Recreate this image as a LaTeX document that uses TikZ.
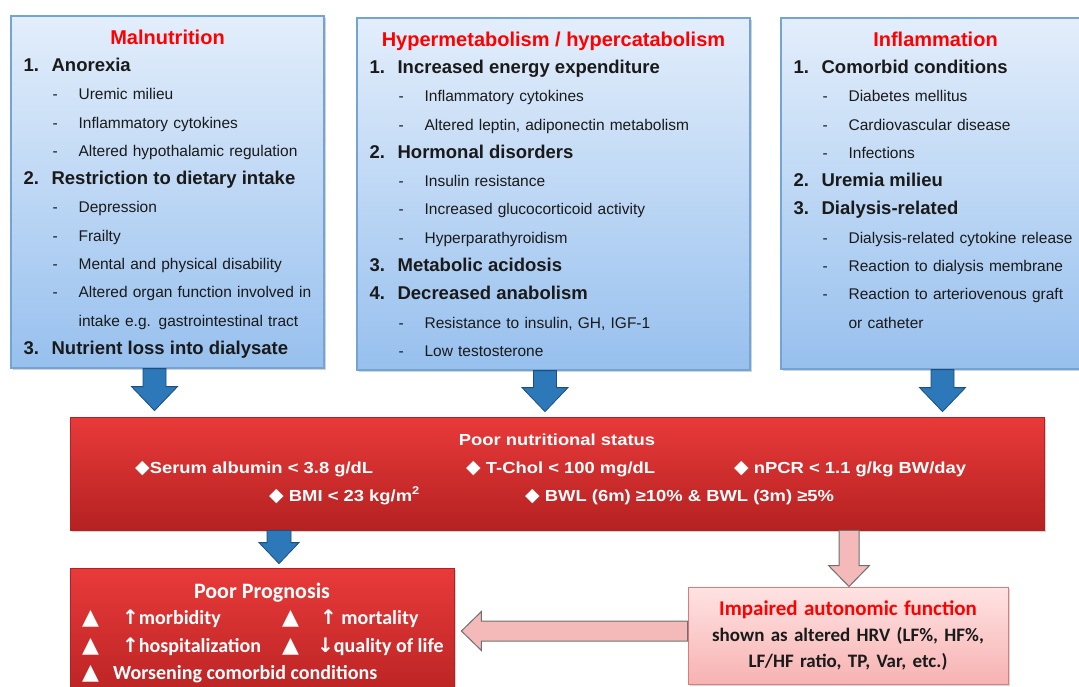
\documentclass[tikz,border=0pt]{standalone}
\usepackage{fontspec}
\setmainfont{Liberation Sans}
\newfontfamily\calfont{Carlito}
\newfontfamily\symfont{DejaVu Sans}
\newfontfamily\widefont{Liberation Sans}[FakeStretch=1.15]
\usepackage{tikz}
\usetikzlibrary{calc,shadows}
\tikzset{cause/.style={draw=boxline,line width=1.2pt,top color=boxtop,bottom color=boxbot,
  drop shadow={shadow xshift=1.5pt,shadow yshift=-1.5pt,opacity=.35}},
hdtext/.style={anchor=base,inner sep=0,text=headred,font=\fontsize{20}{28.3}\selectfont\bfseries},
listtext/.style={anchor=north west,inner sep=0,align=left,text width=#1,text=inktext,
  font=\fontsize{15.5}{28.3}\selectfont},
status/.style={draw=redbot,line width=.8pt,top color=redtop,bottom color=redbot,
  drop shadow={shadow xshift=2pt,shadow yshift=-2pt,opacity=.35}},
wtext/.style={anchor=base west,inner sep=0,text=white,font=\widefont\bfseries\fontsize{16}{20}\selectfont},
ptext/.style={anchor=base west,inner sep=0,text=white,font=\calfont\bfseries\fontsize{20}{24}\selectfont},
effect/.style={draw=pinkline,line width=1pt,top color=pinktop,bottom color=pinkbot,align=center,
  text width=310pt,text=inktext,font=\calfont\bfseries\fontsize{19}{26}\selectfont,
  drop shadow={shadow xshift=1.5pt,shadow yshift=-1.5pt,opacity=.3}},
bluearr/.style={fill=arrblue,draw=arrblueline,line width=.8pt},
pinkarr/.style={fill=pinkfill,draw=grayline,line width=1pt}}
\definecolor{boxtop}{HTML}{E3EEFB}
\definecolor{boxbot}{HTML}{97C0EE}
\definecolor{boxline}{HTML}{74A3D6}
\definecolor{headred}{HTML}{FF0000}
\definecolor{inktext}{HTML}{1A1A1A}
\definecolor{arrblue}{HTML}{2C78B8}
\definecolor{arrblueline}{HTML}{1C4F7C}
\definecolor{redtop}{HTML}{E93A3A}
\definecolor{redbot}{HTML}{B52121}
\definecolor{pinktop}{HTML}{FFE3E3}
\definecolor{pinkbot}{HTML}{F7B2B2}
\definecolor{pinkline}{HTML}{E27878}
\definecolor{pinkfill}{HTML}{F4B9B9}
\definecolor{grayline}{HTML}{6F6F6F}
\newcommand\nitem[2]{{\fontsize{18.5}{28.3}\selectfont\bfseries\makebox[28pt][l]{#1.}#2}}
\newcommand\dsub[1]{\hspace*{29pt}\makebox[26pt][l]{-}#1}
\newcommand\dcont[1]{\hspace*{55pt}#1}
\newcommand\dia{{\symfont\fontsize{19}{20}\selectfont◆}}
\newcommand\tri[1]{\makebox[#1][l]{\symfont\fontsize{22}{24}\selectfont▲}}
\newcommand\arup{{\symfont↑}}
\newcommand\ardn{{\symfont↓}}
\newcommand\downarr[6]{\draw[#1] ($(#2)+(-#4,0)$) -- ($(#3)+(-#4,-#6)$) -- ($(#3)+(-#5,-#6)$) -- (#3)
  -- ($(#3)+(#5,-#6)$) -- ($(#3)+(#4,-#6)$) -- ($(#2)+(#4,0)$) -- cycle;}
\newcommand\leftarr[6]{\draw[#1] ($(#2)+(0,-#4)$) -- ($(#3)+(#6,-#4)$) -- ($(#3)+(#6,-#5)$) -- (#3)
  -- ($(#3)+(#6,#5)$) -- ($(#3)+(#6,#4)$) -- ($(#2)+(0,#4)$) -- cycle;}
\begin{document}
\begin{tikzpicture}[x=1pt,y=-1pt]
\useasboundingbox (0,0) rectangle (1079,686);
\node[cause,minimum width=313pt,minimum height=352pt] (mal) at (167.5,192) {};
\node[cause,minimum width=393pt,minimum height=352pt] (hyp) at (553.5,194) {};
\node[cause,minimum width=309pt,minimum height=351pt] (inf) at (935.5,193.5) {};
\node[hdtext] (malhd) at ($(mal.north)+(0,29)$) {Malnutrition};
\node[hdtext] (hyphd) at ($(hyp.north)+(0,29)$) {Hypermetabolism / hypercatabolism};
\node[hdtext] (infhd) at ($(inf.north)+(0,29)$) {Inflammation};
\node[listtext=290pt] (malbody) at ($(mal.north west)+(13,42.4)$) {\nitem{1}{Anorexia}\\
\dsub{Uremic milieu}\\ \dsub{Inflammatory cytokines}\\ \dsub{Altered hypothalamic regulation}\\
\nitem{2}{Restriction to dietary intake}\\ \dsub{Depression}\\ \dsub{Frailty}\\
\dsub{Mental and physical disability}\\ \dsub{Altered organ function involved in}\\
\dcont{intake e.g. gastrointestinal tract}\\ \nitem{3}{Nutrient loss into dialysate}};
\node[listtext=370pt] (hypbody) at ($(hyp.north west)+(13,42.4)$) {\nitem{1}{Increased energy expenditure}\\
\dsub{Inflammatory cytokines}\\ \dsub{Altered leptin, adiponectin metabolism}\\
\nitem{2}{Hormonal disorders}\\ \dsub{Insulin resistance}\\ \dsub{Increased glucocorticoid activity}\\
\dsub{Hyperparathyroidism}\\ \nitem{3}{Metabolic acidosis}\\ \nitem{4}{Decreased anabolism}\\
\dsub{Resistance to insulin, GH, IGF-1}\\ \dsub{Low testosterone}};
\node[listtext=290pt] (infbody) at ($(inf.north west)+(13,42.4)$) {\nitem{1}{Comorbid conditions}\\
\dsub{Diabetes mellitus}\\ \dsub{Cardiovascular disease}\\ \dsub{Infections}\\
\nitem{2}{Uremia milieu}\\ \nitem{3}{Dialysis-related}\\ \dsub{Dialysis-related cytokine release}\\
\dsub{Reaction to dialysis membrane}\\ \dsub{Reaction to arteriovenous graft}\\ \dcont{or catheter}};
\node[status,minimum width=974pt,minimum height=113pt] (poor) at (557,473.5) {};
\node[wtext,anchor=base] (pns) at (557,445) {Poor nutritional status};
\node[wtext] (alb) at (135,473) {\dia Serum albumin < 3.8 g/dL};
\node[wtext] (chol) at (466,473) {\dia\ T-Chol < 100 mg/dL};
\node[wtext] (npcr) at (734,473) {\dia\ nPCR < 1.1 g/kg BW/day};
\node[wtext] (bmi) at (269,501) {\dia\ BMI < 23 kg/m\textsuperscript{2}};
\node[wtext] (bwl) at (525,501) {\dia\ BWL (6m) ≥10\% \& BWL (3m) ≥5\%};
\node[status,minimum width=384pt,minimum height=142pt] (prog) at (262,639) {};
\node[ptext,anchor=base,font=\calfont\bfseries\fontsize{22}{24}\selectfont] (proghd) at (262,598) {Poor Prognosis};
\node[ptext] (morb) at (82,624.5) {\tri{40pt}\arup morbidity};
\node[ptext] (mort) at (282,624.5) {\tri{38pt}\arup\ mortality};
\node[ptext] (hosp) at (82,652.5) {\tri{40pt}\arup hospitalization};
\node[ptext] (qol) at (282,652.5) {\tri{35pt}\ardn quality of life};
\node[ptext] (worse) at (82,679.5) {\tri{31pt}Worsening comorbid conditions};
\node[effect,minimum width=320pt,minimum height=97pt] (imp) at (848,635.5)
  {\textcolor{headred}{\fontsize{21}{26}\selectfont Impaired autonomic function}\\
  shown as altered HRV (LF\%, HF\%,\\ LF/HF ratio, TP, Var, etc.)};
\coordinate (s1) at ([xshift=-13pt]mal.south);
\coordinate (s2) at ([xshift=-8.5pt]hyp.south);
\coordinate (s3) at ([xshift=7pt]inf.south);
\coordinate (t1) at ($(s1 |- poor.north)+(0,-6)$);
\coordinate (t2) at ($(s2 |- poor.north)+(0,-5)$);
\coordinate (t3) at ($(s3 |- poor.north)+(0,-5)$);
\downarr{bluearr}{s1}{t1}{11.5}{23}{24}
\downarr{bluearr}{s2}{t2}{11.5}{23}{24}
\downarr{bluearr}{s3}{t3}{11.5}{23}{24}
\coordinate (s4) at ([xshift=-278pt]poor.south);
\coordinate (t4) at ($(s4 |- prog.north)+(0,-4)$);
\downarr{bluearr}{s4}{t4}{12}{20}{21}
\coordinate (s5) at ([xshift=292pt]poor.south);
\coordinate (t5) at (s5 |- imp.north);
\downarr{pinkarr}{s5}{t5}{10}{20.5}{21}
\coordinate (s6) at ([yshift=4.5pt]imp.west);
\coordinate (t6) at ($(s6 -| prog.east)+(7,0)$);
\leftarr{pinkarr}{s6}{t6}{10}{19.5}{20}
\end{tikzpicture}
\end{document}
